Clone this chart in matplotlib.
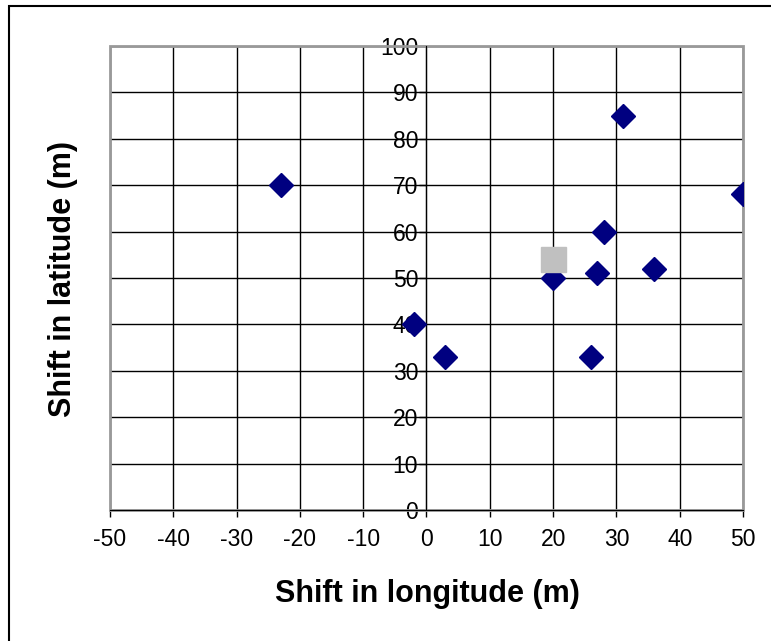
import matplotlib
matplotlib.use("Agg")
import matplotlib.pyplot as plt
from matplotlib.patches import Rectangle

plt.rcParams['font.family'] = ['Liberation Sans', 'DejaVu Sans']
plt.rcParams['axes.unicode_minus'] = False

# shifts of the individual points (m)
lon_shift = [-23, 31, 50, 28, 36, 27, 20, -2, 3, 26]
lat_shift = [70, 85, 68, 60, 52, 51, 50, 40, 33, 33]
# mean shift
mean_lon = [20]
mean_lat = [54]

x_ticks = list(range(-50, 51, 10))
y_ticks = list(range(0, 101, 10))

fig = plt.figure(figsize=(7.71, 6.41), dpi=100)
ax = fig.add_axes([110/771, 131/641, 633/771, 464/641])

ax.set_xlim(-50, 50)
ax.set_ylim(0, 100)
ax.set_xticks(x_ticks)
ax.set_yticks(y_ticks)
ax.grid(True, color='black', linewidth=1)
ax.set_axisbelow(True)

ax.plot(lon_shift, lat_shift, linestyle='none', marker='D', markersize=12,
        color='#000080', zorder=3)
ax.plot(mean_lon, mean_lat, linestyle='none', marker='s', markersize=18,
        color='#c0c0c0', zorder=4)

ax.spines['left'].set_position(('data', 0))
ax.spines['left'].set_color('black')
ax.spines['bottom'].set_color('black')
ax.spines['top'].set_visible(False)
ax.spines['right'].set_visible(False)
ax.add_patch(Rectangle((0, 0), 1, 1, transform=ax.transAxes, fill=False,
                       edgecolor='#999999', linewidth=2, zorder=1, clip_on=False))

ax.tick_params(axis='both', direction='out', length=5, width=1, labelsize=16.5)
ax.tick_params(axis='y', pad=1)
ax.tick_params(axis='x', pad=8)

fig.text(427/771, 1 - 594/641, 'Shift in longitude (m)', fontsize=22, fontweight='bold',
         ha='center', va='center')
fig.text(63/771, 1 - 279/641, 'Shift in latitude (m)', fontsize=22, fontweight='bold',
         rotation=90, ha='center', va='center')

# outer chart border
fig.add_artist(Rectangle((9/771, -0.05), 1.2, 1 - 6/641 + 0.05, transform=fig.transFigure,
                         fill=False, edgecolor='black', linewidth=1.5))

fig.savefig('out.png', dpi=100)
